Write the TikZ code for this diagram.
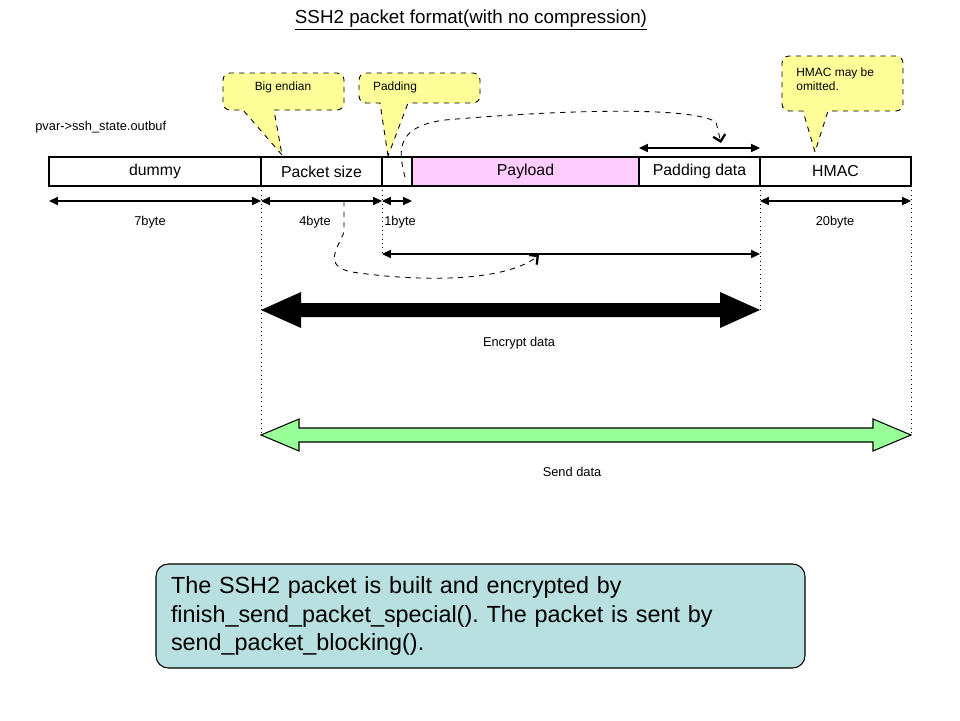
\documentclass[tikz,border=0pt]{standalone}
\usepackage{fontspec}
\setmainfont{Liberation Sans}
\usetikzlibrary{arrows.meta,positioning}
\definecolor{payloadpink}{RGB}{255,204,255}
\definecolor{noteyellow}{RGB}{255,255,153}
\definecolor{sendgreen}{RGB}{153,255,153}
\definecolor{boxteal}{RGB}{185,224,225}
\def\callout(#1:#2:#3:#4)(#5:#6)(#7){\draw[callout] (#7) -- (#5,#4) [rounded corners=4pt] -- (#1,#4) -- (#1,#3) -- (#2,#3) -- (#2,#4) [sharp corners] -- (#6,#4) -- cycle;}
\frenchspacing

\begin{document}
\begin{tikzpicture}[x=0.02cm,y=-0.02cm,
	cell/.style={draw, line width=0.6pt, outer sep=0pt, inner sep=0pt, minimum height={29*0.02cm}, font=\fontsize{9}{11}\selectfont},
	small/.style={font=\fontsize{7.3}{9}\selectfont, inner sep=0pt},
	dim/.style={line width=0.6pt, {Triangle[length=5pt,width=4.6pt]}-{Triangle[length=5pt,width=4.6pt]}},
	guide/.style={line width=0.5pt, dotted},
	callout/.style={dashed, line width=0.5pt, fill=noteyellow},
	curly/.style={dashed, line width=0.5pt, -{Straight Barb[length=3.5pt,width=7pt,line width=1.3pt]}},
	notebox/.style={draw, line width=0.6pt, rounded corners=7pt, fill=boxteal, text width={619*0.02cm}, align=left, inner xsep={15*0.02cm}, minimum height={104*0.02cm}, font=\fontsize{13.3}{16.4}\selectfont}]
	%%%%% START %%%%%
	\useasboundingbox (0,0) rectangle (960,720);
	
	\node (title) at (471,20) {\fontsize{10.7}{12}\selectfont\underline{SSH2 packet format(with no compression)}};
	\node[small, anchor=west] (outbuf) at (35,127) {pvar->ssh\_state.outbuf};
	
	% callouts
	\coordinate (bigtip) at (282,155);
	\coordinate (padtip) at (388,156);
	\coordinate (hmactip) at (815,152);
	\callout(223:344:73:110)(243:274)(bigtip)
	\callout(359:480:73:103)(380:408)(padtip)
	\callout(782:903:56:111)(803:828)(hmactip)
	\node[font=\fontsize{6.8}{8}\selectfont] (bignote) at (283,87) {Big endian};
	\node[font=\fontsize{6.8}{8}\selectfont] (padnote) at (395,87) {Padding};
	\node[font=\fontsize{6.8}{8}\selectfont, align=left, anchor=north west, inner sep=0pt] (hmacnote) at (796,67) {HMAC may be\\omitted.};
	
	% packet
	\node[cell, minimum width={212*0.02cm}, anchor=north west] (dummy) at (49,157) {dummy};
	\node[cell, minimum width={121*0.02cm}, right=0pt of dummy] (psize) {Packet size};
	\node[cell, minimum width={30*0.02cm}, right=0pt of psize] (padlen) {};
	\node[cell, minimum width={227*0.02cm}, fill=payloadpink, right=0pt of padlen] (payload) {Payload};
	\node[cell, minimum width={121*0.02cm}, right=0pt of payload] (paddata) {Padding data};
	\node[cell, minimum width={151*0.02cm}, right=0pt of paddata] (hmac) {HMAC};
	
	\coordinate (dimrow) at (0,201);
	\coordinate (lenrow) at (0,254);
	\coordinate (encrow) at (0,310);
	\coordinate (sendrow) at (0,435);
	
	% guides
	\draw[guide] (psize.south west) -- (psize.south west |- sendrow);
	\draw[guide] (padlen.south west) -- (padlen.south west |- lenrow);
	\draw[guide] (hmac.south west) -- (hmac.south west |- encrow);
	\draw[guide] (hmac.south east) -- (hmac.south east |- sendrow);
	
	% sizes
	\draw[dim] (dummy.south west |- dimrow) -- (dummy.south east |- dimrow);
	\draw[dim] (psize.south west |- dimrow) -- (psize.south east |- dimrow);
	\draw[dim] (padlen.south west |- dimrow) -- (padlen.south east |- dimrow);
	\draw[dim] (hmac.south west |- dimrow) -- (hmac.south east |- dimrow);
	\draw[dim] (paddata.north west) ++(0,-9) coordinate (padA) -- (paddata.north east |- padA);
	\draw[dim] (padlen.south west |- lenrow) -- (hmac.south west |- lenrow);
	\node[small] (b7) at (150,222) {7byte};
	\node[small] (b4) at (315,222) {4byte};
	\node[small, anchor=west] (b1) at (384,222) {1byte};
	\node[small] (b20) at (835,222) {20byte};
	
	% dashed pointers
	\draw[curly] (405,177) .. controls (397,148) and (398,126) .. (445,120) .. controls (560,110) and (690,106) .. (716,122) -- (721,143);
	\draw[curly] (344,201) -- (344,232) .. controls (338,248) and (322,266) .. (352,272) .. controls (420,282) and (505,282) .. (539,255);
	
	% encrypt + send
	\fill (261,310) -- (301,292) -- (301,303) -- (720,303) -- (720,292) -- (760,310) -- (720,328) -- (720,317) -- (301,317) -- (301,328) -- cycle;
	\node[small] (enc) at (519,343) {Encrypt data};
	\draw[fill=sendgreen, line width=0.6pt] (261,435) -- (299,419) -- (299,428) -- (873,428) -- (873,419) -- (911,435) -- (873,451) -- (873,442) -- (299,442) -- (299,451) -- cycle;
	\node[small] (send) at (572,472) {Send data};
	
	\node[notebox] (note) at (480.5,616) {The SSH2 packet is built and encrypted by\\finish\_send\_packet\_special(). The packet is sent by\\send\_packet\_blocking().};
	%%%%% END %%%%%
\end{tikzpicture}
\end{document}
